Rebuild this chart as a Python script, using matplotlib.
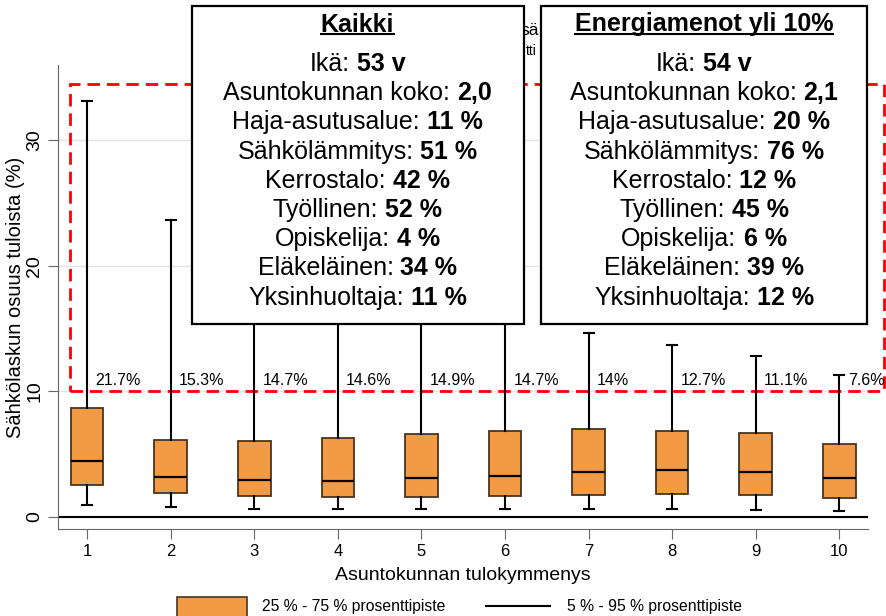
import matplotlib
matplotlib.use("Agg")
import matplotlib.pyplot as plt
from matplotlib.patches import Rectangle
from matplotlib.lines import Line2D

plt.rcParams["font.family"] = ["Liberation Sans", "DejaVu Sans"]

# Data
deciles = [1, 2, 3, 4, 5, 6, 7, 8, 9, 10]
p5 = [0.99, 0.80, 0.66, 0.64, 0.64, 0.64, 0.64, 0.64, 0.58, 0.48]
q1 = [2.52, 1.91, 1.70, 1.59, 1.59, 1.64, 1.72, 1.81, 1.75, 1.51]
med = [4.46, 3.22, 2.92, 2.89, 3.08, 3.29, 3.55, 3.71, 3.55, 3.13]
q3 = [8.68, 6.16, 6.05, 6.26, 6.63, 6.87, 6.98, 6.87, 6.66, 5.78]
p95 = [33.1, 23.6, 17.0, 16.5, 16.5, 16.0, 14.65, 13.7, 12.85, 11.28]
share_over_10 = [21.7, 15.3, 14.7, 14.6, 14.9, 14.7, 14.0, 12.7, 11.1, 7.6]

kaikki_labels = ["Ikä:", "Asuntokunnan koko:", "Haja-asutusalue:", "Sähkölämmitys:",
                 "Kerrostalo:", "Työllinen:", "Opiskelija:", "Eläkeläinen:", "Yksinhuoltaja:"]
kaikki_values = ["53 v", "2,0", "11 %", "51 %", "42 %", "52 %", "4 %", "34 %", "11 %"]
energia_values = ["54 v", "2,1", "20 %", "76 %", "12 %", "45 %", "6 %", "39 %", "12 %"]

W, H = 886, 616
ORANGE = "#F39A45"
EDGE = "#4a3520"

fig = plt.figure(figsize=(W / 100, H / 100), dpi=100)
ax = fig.add_axes([58 / W, 1 - 529 / H, (868 - 58) / W, (529 - 65) / H])

stats = []
for i in range(len(deciles)):
    stats.append({"med": med[i], "q1": q1[i], "q3": q3[i],
                  "whislo": p5[i], "whishi": p95[i], "fliers": []})
ax.bxp(stats, positions=deciles, widths=0.39, capwidths=0.12, patch_artist=True,
       showfliers=False,
       boxprops=dict(facecolor=ORANGE, edgecolor=EDGE, linewidth=1.3),
       medianprops=dict(color="black", linewidth=1.6),
       whiskerprops=dict(color="black", linewidth=1.5),
       capprops=dict(color="black", linewidth=1.5), zorder=3)

for x, s in zip(deciles, share_over_10):
    ax.text(x + 0.1, 10.5, f"{s:g}%", fontsize=11.5, ha="left", va="baseline", zorder=4)

ax.axhline(0, color="black", linewidth=1.5, zorder=2)
ax.add_patch(Rectangle((0.80, 10), 10.535 - 0.80, 34.45 - 10, fill=False,
                       edgecolor="red", linewidth=2, linestyle=(0, (4.5, 2.5)),
                       clip_on=False, zorder=2.5))

ax.set_xlim(0.651, 10.343)
ax.set_ylim(-0.95, 35.96)
ax.set_xticks(deciles)
ax.set_yticks([0, 10, 20, 30])
ax.set_yticklabels(["0", "10", "20", "30"], rotation=90, va="center")
ax.tick_params(axis="both", length=7, color="#666666")
ax.tick_params(axis="x", labelsize=12)
ax.tick_params(axis="y", labelsize=14)
ax.grid(axis="y", color="#e4e4e4", linewidth=1, zorder=0)
ax.set_axisbelow(True)
for sp in ["top", "right"]:
    ax.spines[sp].set_visible(False)
for sp in ["left", "bottom"]:
    ax.spines[sp].set_color("#666666")
ax.set_xlabel("Asuntokunnan tulokymmenys", fontsize=14, labelpad=6)
ax.set_ylabel("Sähkölaskun osuus tuloista (%)", fontsize=14.5, labelpad=1)

# title: only its ends show between the two info boxes
fig.text(539 / W, 1 - 35 / H, "sä", fontsize=12.5, ha="right", va="baseline", zorder=5)
fig.text(537 / W, 1 - 55 / H, "tti", fontsize=10, ha="right", va="baseline", zorder=5)

renderer = fig.canvas.get_renderer()


def px(x, y):
    return x / W, 1 - y / H


def text_width(t):
    return t.get_window_extent(renderer).width


def info_box(x0, x1, heading, labels, values):
    fig.add_artist(Rectangle(px(x0, 324), (x1 - x0) / W, (324 - 6) / H,
                             transform=fig.transFigure, facecolor="white",
                             edgecolor="black", linewidth=1.6, zorder=10))
    xc = (x0 + x1) / 2
    h = fig.text(*px(xc, 31.5), heading, fontsize=18, fontweight="bold",
                 ha="center", va="baseline", zorder=11)
    hw = text_width(h)
    fig.add_artist(Line2D([(xc - hw / 2) / W, (xc + hw / 2) / W],
                          [1 - 34 / H, 1 - 34 / H], transform=fig.transFigure,
                          color="black", linewidth=1.5, zorder=11))
    probe_a = fig.text(0, 0, "aa", fontsize=18)
    probe_b = fig.text(0, 0, "a a", fontsize=18)
    space = text_width(probe_b) - text_width(probe_a)
    probe_a.remove()
    probe_b.remove()
    for n, (lab, val) in enumerate(zip(labels, values)):
        yb = 71 + 29.2 * n
        t1 = fig.text(0, 0, lab, fontsize=18, ha="left", va="baseline", zorder=11)
        t2 = fig.text(0, 0, val, fontsize=18, fontweight="bold", ha="left",
                      va="baseline", zorder=11)
        w1, w2 = text_width(t1), text_width(t2)
        left = xc - (w1 + space + w2) / 2
        t1.set_position(px(left, yb))
        t2.set_position(px(left + w1 + space, yb))


info_box(191.5, 523.5, "Kaikki", kaikki_labels, kaikki_values)
info_box(541, 867, "Energiamenot yli 10%", kaikki_labels, energia_values)

# legend along the bottom edge
fig.add_artist(Rectangle(px(177, 640), 70 / W, 43 / H, transform=fig.transFigure,
                         facecolor=ORANGE, edgecolor=EDGE, linewidth=1.2))
fig.text(*px(262, 607), "25 % - 75 % prosenttipiste", fontsize=11.3, ha="left", va="center")
fig.add_artist(Line2D([486 / W, 550 / W], [1 - 606 / H, 1 - 606 / H],
                      transform=fig.transFigure, color="black", linewidth=1.5))
fig.text(*px(567, 607), "5 % - 95 % prosenttipiste", fontsize=11.3, ha="left", va="center")

fig.savefig("out.png", dpi=100)
